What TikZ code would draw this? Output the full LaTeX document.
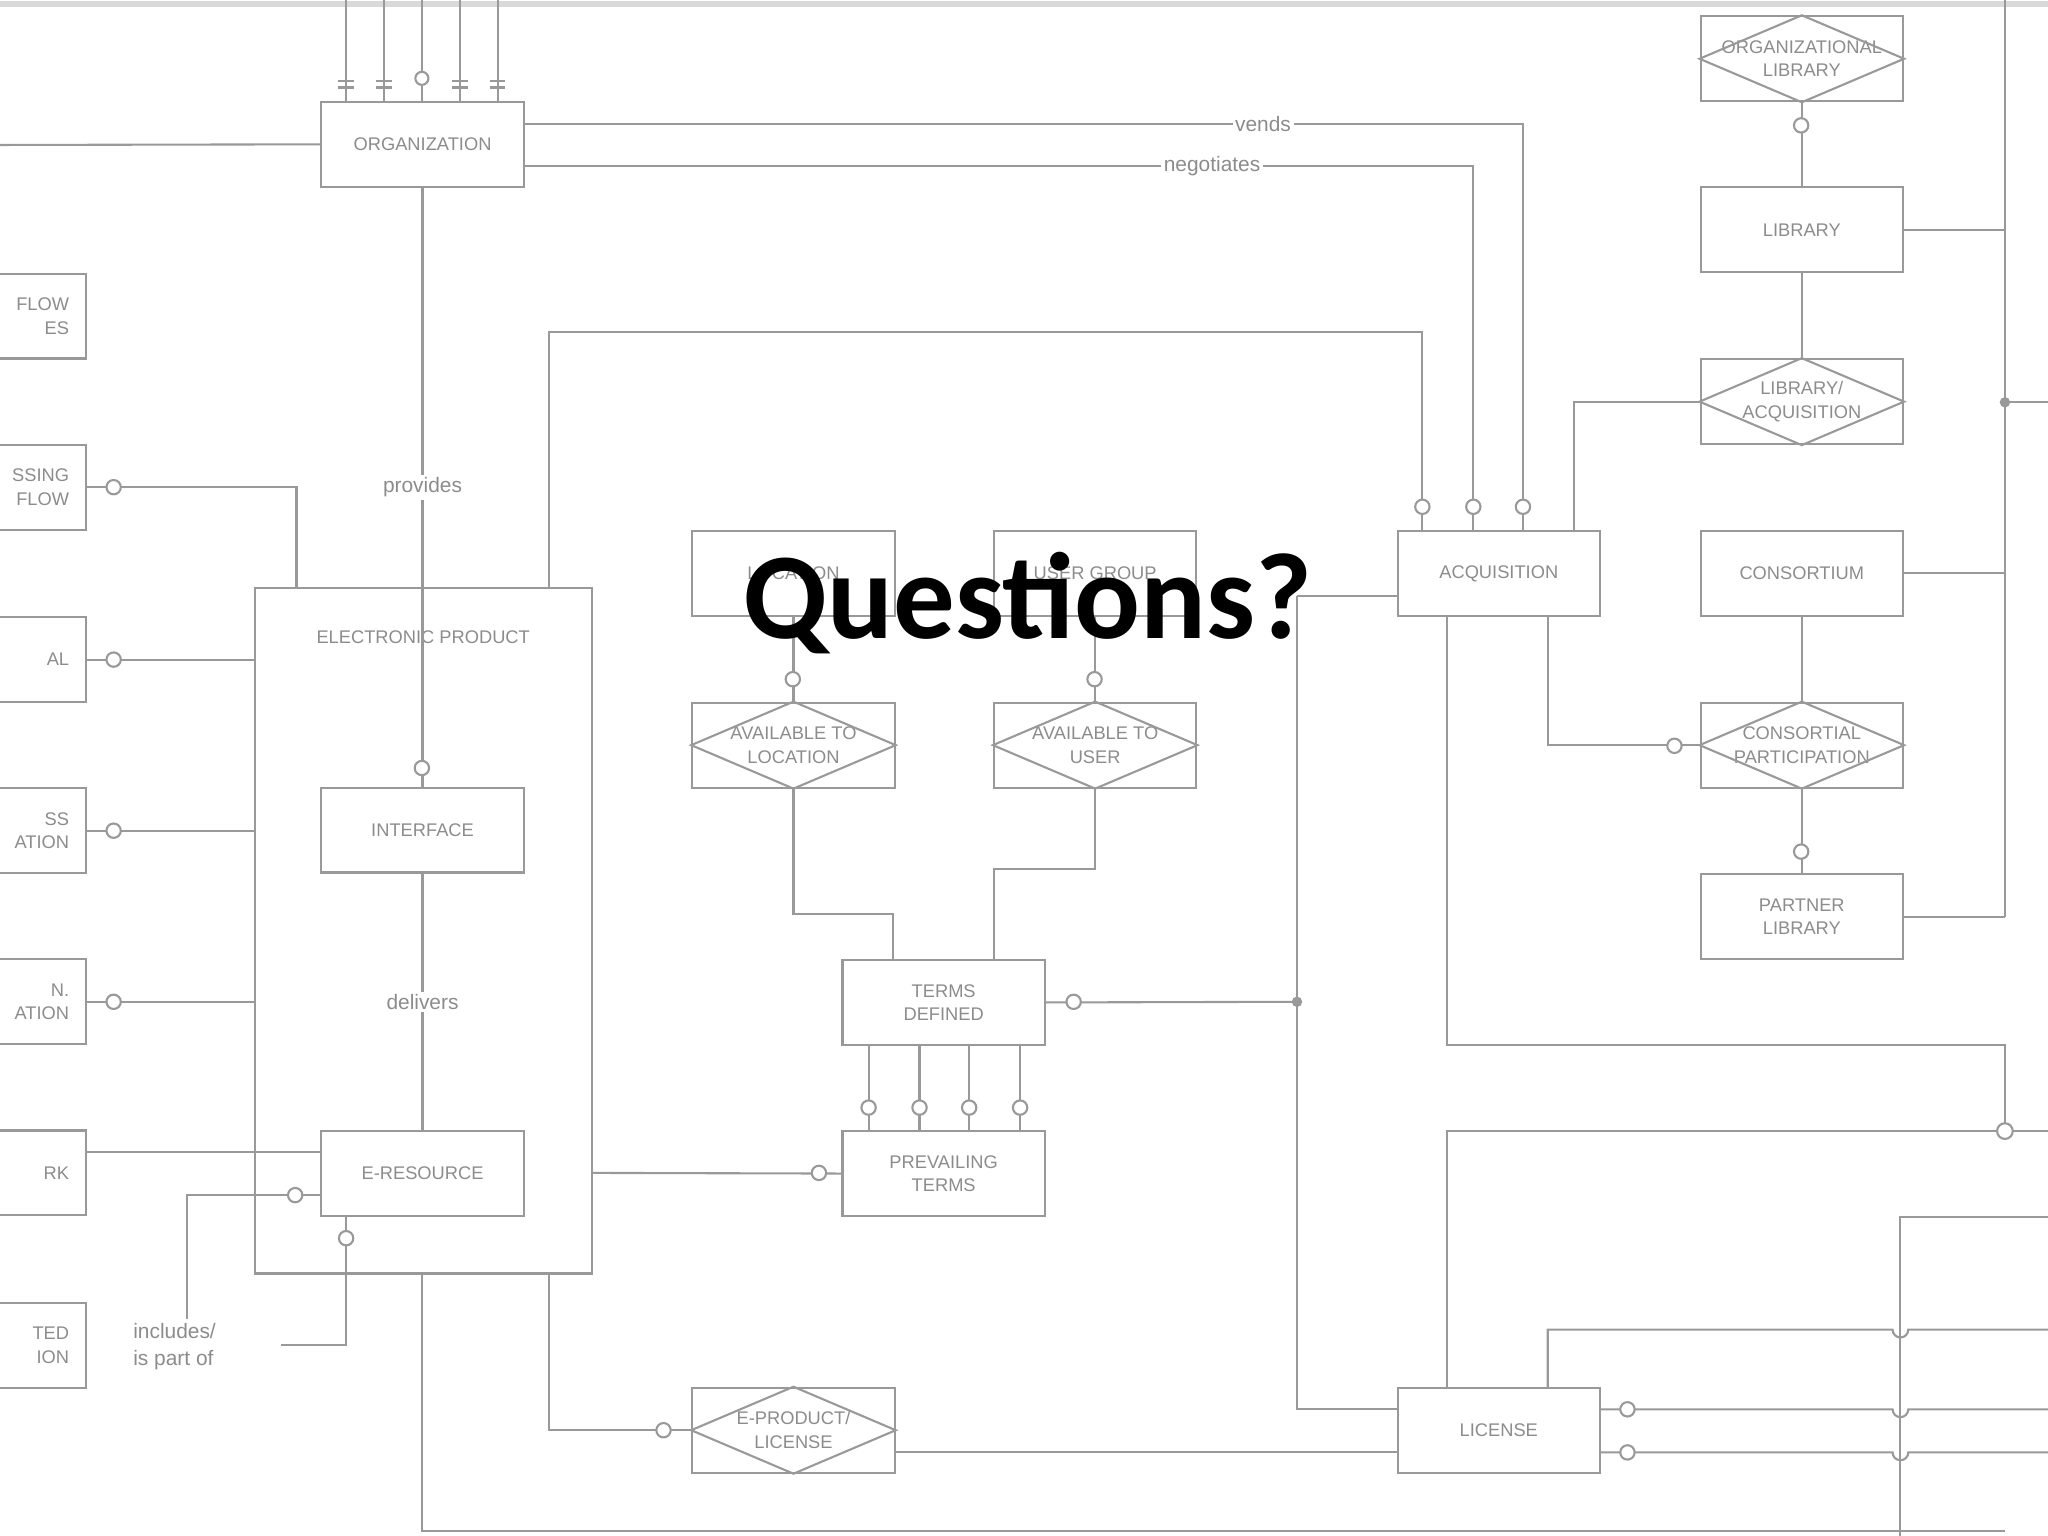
\documentclass[tikz,border=0pt]{standalone}
\usepackage{fontspec}
\setmainfont{Liberation Sans}
\newfontfamily\qfont{Carlito}
\begin{document}
\begin{tikzpicture}[x=0.5pt,y=-0.5pt,
  ln/.style={draw=black!40,line width=0.8pt},
  box/.style={ln,rectangle,minimum width=77.5pt,minimum height=32.5pt,inner sep=0pt,align=center,font=\fontsize{7}{9}\selectfont,text=black!45},
  lbl/.style={font=\fontsize{8}{10}\selectfont,text=black!45,fill=white,inner sep=1pt},
  dia/.style={ln}]
\useasboundingbox[fill=white] (0,0) rectangle (1568,1176);
\draw[black!15,line width=2pt] (0,3)--(1568,3);
% boxes
\node[box] (org) at (323.5,110.5) {ORGANIZATION};
\node[box,minimum width=129pt,minimum height=262.5pt] (ep) at (324,712.5) {};
\node[text=black!45,font=\fontsize{7}{9}\selectfont] at (324,488) {ELECTRONIC PRODUCT};
\node[box] (intf) at (323.5,635.5) {INTERFACE};
\node[box] (eres) at (323.5,898.5) {E-RESOURCE};
\node[box] (loc) at (607.5,439) {LOCATION};
\node[box] (ug) at (838.5,439) {USER GROUP};
\node[box] (avl) at (607.5,570.5) {AVAILABLE TO\\LOCATION};
\node[box] (avu) at (838.5,570.5) {AVAILABLE TO\\USER};
\node[box] (td) at (722.5,767.5) {TERMS\\DEFINED};
\node[box] (pt) at (722.5,898.5) {PREVAILING\\TERMS};
\node[box] (epl) at (607.5,1095) {E-PRODUCT/\\LICENSE};
\node[box] (acq) at (1147.5,439) {ACQUISITION};
\node[box] (lic) at (1147.5,1095) {LICENSE};
\node[box] (olib) at (1379.5,45) {ORGANIZATIONAL\\LIBRARY};
\node[box] (lib) at (1379.5,176) {LIBRARY};
\node[box] (la) at (1379.5,307.5) {LIBRARY/\\ACQUISITION};
\node[box] (cons) at (1379.5,439) {CONSORTIUM};
\node[box] (cp) at (1379.5,570.5) {CONSORTIAL\\PARTICIPATION};
\node[box] (pl) at (1379.5,702) {PARTNER\\LIBRARY};
% diamonds
\foreach \n in {olib,la,cp,avl,avu,epl}{
  \draw[dia] (\n.west)--(\n.north)--(\n.east)--(\n.south)--cycle;}
% left partial boxes
\foreach \y/\t in {242/{FLOW\\ES},373/{SSING\\FLOW},505/{AL},636/{SS\\ATION},767/{N.\\ATION},898/{RK},1030/{TED\\ION}}{
  \draw[ln] (0,\y-32.5) -- (66,\y-32.5) -- (66,\y+32.5) -- (0,\y+32.5);
  \node[anchor=east,align=right,text=black!45,font=\fontsize{7}{9}\selectfont] at (60,\y) {\t};}
\coordinate (L1) at (66,373);\coordinate (L2) at (66,505);\coordinate (L3) at (66,636);
\coordinate (L4) at (66,767);\coordinate (L5) at (66,882);
\draw[ln] (L1) -| (227,450);
\draw[ln] (L2) -- (L2 -| ep.west);
\draw[ln] (L3) -- (L3 -| ep.west);
\draw[ln] (L4) -- (L4 -| ep.west);
\draw[ln] (L5) -- (L5 -| eres.west);
% organization
\foreach \x in {265,294,323,352,381}{\draw[ln] (\x,78) -- (\x,0);}
\draw[ln] (0,111) -- (org.west);
\draw[ln] (401,95) -| (1166,406);
\node[lbl] at (967,95) {vends};
\draw[ln] (401,127) -| (1128,406);
\node[lbl] at (928,127) {negotiates};
\draw[ln] (org.south) -- (intf.north) node[midway,lbl]{provides};
\draw[ln] (intf.south) -- (eres.north) node[midway,lbl]{delivers};
\draw[ln] (420,450) |- (1089,254) -- (1089,406);
% e-resource
\draw[ln] (246,915) -| (143,1010);
\draw[ln] (265,931) |- (215,1030);
\node[align=left,anchor=west,text=black!45,font=\fontsize{8}{10}\selectfont] at (95,1031) {includes/\\is part of};
\draw[ln] (453,898) -- (pt.west);
\draw[ln] (323,975) |- (1535,1172);
\draw[ln] (420,975) |- (epl.west);
\draw[ln] (685,1112) -- (1070,1112);
% location etc
\draw[ln] (loc.south) -- (avl.north);
\draw[ln] (ug.south) -- (avu.north);
\draw[ln] (avl.south) |- (684,700) -- (684,735);
\draw[ln] (avu.south) |- (761,665) -- (761,735);
\foreach \x in {665,704,742,781}{\draw[ln] (\x,800) -- (\x,866);}
\draw[ln] (td.east) -- (993,767);
\fill[black!40] (993,767) circle (4);
\draw[ln] (993,456) -- (1070,456);
\draw[ln] (993,456) |- (1070,1079);
% acquisition
\draw[ln] (1205,406) |- (la.west);
\draw[ln] (1185,472) |- (cp.west);
\draw[ln] (1108,472) |- (1535,800) -- (1535,866);
\draw[ln] (1108,1062) |- (1568,866);
\draw[ln,fill=white] (1535,866) circle (6);
\draw[ln] (olib.south) -- (lib.north);
\draw[ln] (lib.south) -- (la.north);
\draw[ln] (cons.south) -- (cp.north);
\draw[ln] (cp.south) -- (pl.north);
\draw[ln] (1535,0) -- (1535,702);
\draw[ln] (lib.east) -- (1535,176);
\draw[ln] (cons.east) -- (1535,439);
\draw[ln] (pl.east) -- (1535,702);
\draw[ln] (1535,308) -- (1568,308);
\fill[black!40] (1535,308) circle (4);
\draw[ln] (1568,932) -- (1455,932) -- (1455,1176);
\draw[ln] (1185,1062) -- (1185,1018) -- (1449,1018) arc (180:0:6) -- (1568,1018);
\foreach \y in {1079,1112}{
  \draw[ln] (1225,\y) -- (1449,\y) arc (180:0:6) -- (1568,\y);}
% markers (simplified)
\foreach \x in {265,294,352,381}{\draw[ln] (\x-6,62)--(\x+6,62) (\x-6,67)--(\x+6,67);}
\draw[ln,fill=white] (323,60) circle (5);
\foreach \p in {(1089,388),(1128,388),(1166,388),(323,588),(607,520),(838,520),(665,848),(704,848),(742,848),(781,848),(1379,96),(1379,652),(265,948)}{\draw[ln,fill=white] \p circle (5.5);}
\foreach \p in {(87,373),(87,505),(87,636),(87,767),(822,767),(508,1095),(627,898),(226,915),(1282,571),(1246,1079),(1246,1112)}{\draw[ln,fill=white] \p circle (5.5);}
% Questions
\node[font=\qfont\bfseries\fontsize{47}{56}\selectfont] (q) at (787,462) {Questions?};
\end{tikzpicture}
\end{document}
